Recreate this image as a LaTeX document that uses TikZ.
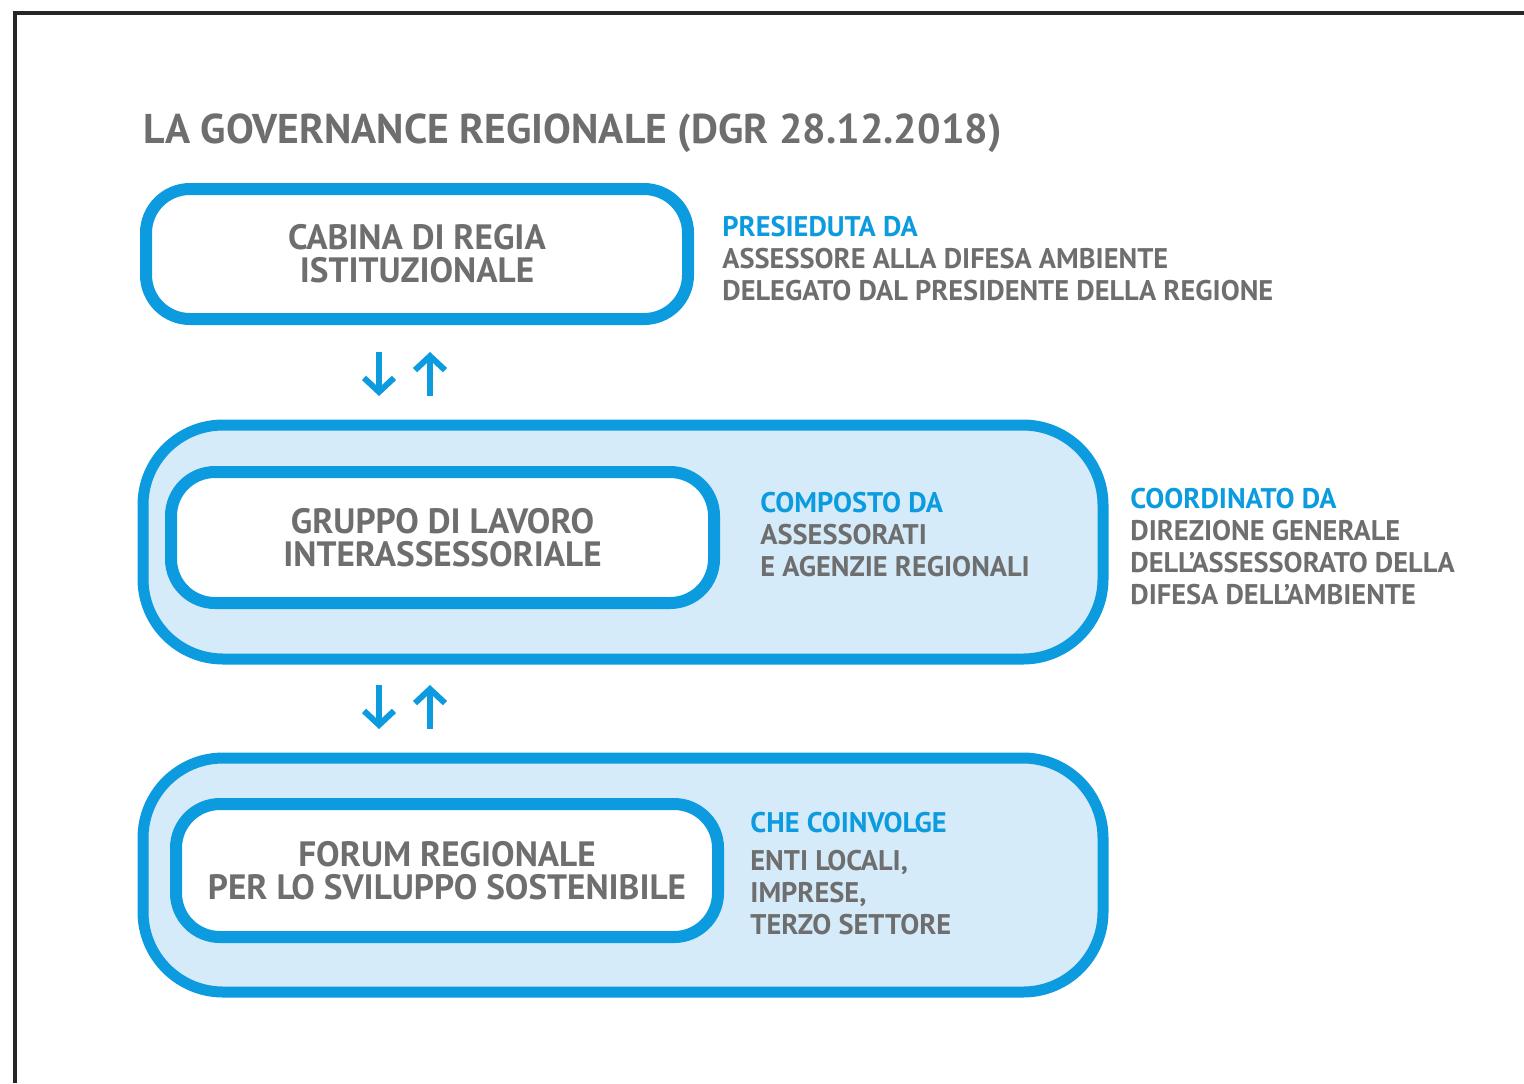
\documentclass[tikz,border=0pt]{standalone}
\usepackage{fontspec}
\setmainfont{PT Sans}
\usepackage{tikz}
\usetikzlibrary{arrows.meta}
\definecolor{govblue}{RGB}{12,155,223}
\definecolor{govfill}{RGB}{213,235,249}
\definecolor{govgray}{RGB}{110,110,110}

\begin{document}
\begin{tikzpicture}[
  x=0.5pt, y=-0.5pt,
  inbox/.style={
    draw=govblue, fill=white, line width=6pt,
    rounded corners=22pt, align=center,
    font=\fontsize{17.6}{16.5}\selectfont\bfseries,
    text=govgray, inner sep=0pt
  },
  outbox/.style={
    draw=govblue, fill=govfill, line width=5.5pt,
    rounded corners=40pt, inner sep=0pt,
    minimum width=480pt, minimum height=117pt
  },
  head/.style={
    anchor=base west, inner sep=0pt, text=govblue,
    font=\fontsize{14.2}{16}\selectfont\bfseries
  },
  body/.style={
    anchor=base west, inner sep=0pt, text=govgray, align=left,
    font=\fontsize{14.2}{16}\selectfont\bfseries
  },
  updown/.style={
    draw=govblue, line width=3pt,
    -{Straight Barb[length=7pt,width=15pt]}
  }
]
  \useasboundingbox (0,0) rectangle (1524,1083);
  \draw[line width=2pt, black!85] (15,1083) -- (15,13) -- (1524,13);

  \node[anchor=base west, inner sep=0pt, text=govgray,
        font=\fontsize{20.8}{24}\selectfont\bfseries]
        (title) at (143,143) {LA GOVERNANCE REGIONALE (DGR 28.12.2018)};

  % livello 1
  \node[inbox, minimum width=271pt, minimum height=65pt]
        (cabina) at (417,254) {CABINA DI REGIA\\ISTITUZIONALE};
  \node[head] (presH) at (722,236) {PRESIEDUTA DA};
  \node[body] (presB) at (722,300)
        {ASSESSORE ALLA DIFESA AMBIENTE\\DELEGATO DAL PRESIDENTE DELLA REGIONE};

  % livello 2
  \node[outbox] (gruppoOut) at (623,542) {};
  \node[inbox, minimum width=271.5pt, minimum height=65.5pt]
        (gruppo) at (442.5,537.5) {GRUPPO DI LAVORO\\INTERASSESSORIALE};
  \node[head] (compH) at (760,512) {COMPOSTO DA};
  \node[body] (compB) at (760,576) {ASSESSORATI\\E AGENZIE REGIONALI};
  \node[head] (coordH) at (1130,508) {COORDINATO DA};
  \node[body] (coordB) at (1130,604)
        {DIREZIONE GENERALE\\DELL’ASSESSORATO DELLA\\DIFESA DELL’AMBIENTE};

  % livello 3
  \node[outbox] (forumOut) at (623,875) {};
  \node[inbox, minimum width=271pt, minimum height=66.5pt]
        (forum) at (447,870.5) {FORUM REGIONALE\\PER LO SVILUPPO SOSTENIBILE};
  \node[head] (coinvH) at (750,832) {CHE COINVOLGE};
  \node[body] (coinvB) at (750,934) {ENTI LOCALI,\\IMPRESE,\\TERZO SETTORE};

  % frecce
  \foreach \n/\ya/\yb in {a/352/396, b/685/729} {
    \coordinate (dn\n s) at (379,\ya);
    \coordinate (dn\n e) at (379,\yb);
    \coordinate (up\n s) at (430,\yb);
    \coordinate (up\n e) at (430,\ya);
    \draw[updown] (dn\n s) -- (dn\n e);
    \draw[updown] (up\n s) -- (up\n e);
  }
\end{tikzpicture}
\end{document}
